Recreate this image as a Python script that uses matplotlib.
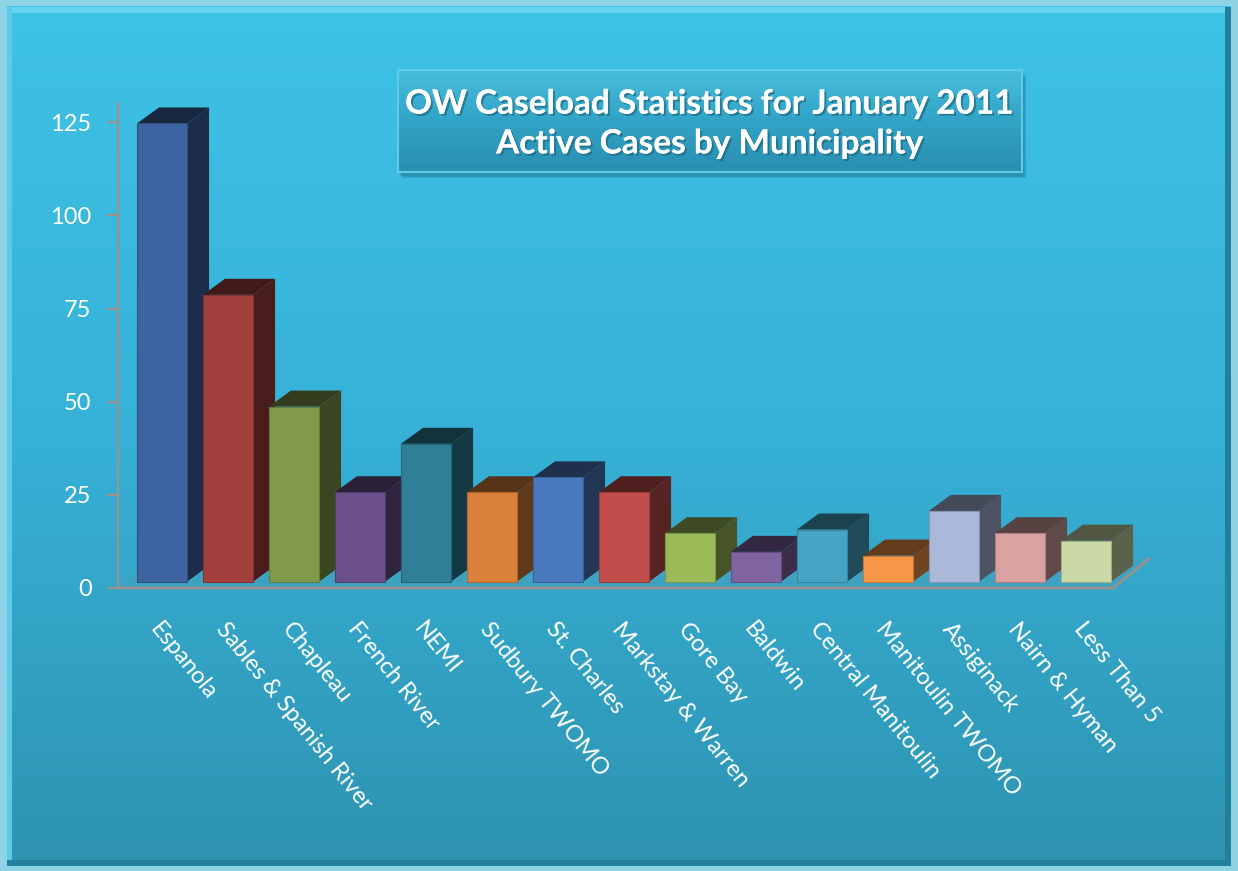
import numpy as np
import matplotlib.pyplot as plt
import matplotlib.patheffects as pe
from matplotlib.colors import LinearSegmentedColormap, to_rgb
from matplotlib.patches import Rectangle

# Data
municipalities = ['Espanola', 'Sables & Spanish River', 'Chapleau', 'French River', 'NEMI',
                  'Sudbury TWOMO', 'St. Charles', 'Markstay & Warren', 'Gore Bay', 'Baldwin',
                  'Central Manitoulin', 'Manitoulin TWOMO', 'Assiginack', 'Nairn & Hyman',
                  'Less Than 5']
cases = [123, 77, 47, 24, 37, 24, 28, 24, 13, 8, 14, 7, 19, 13, 11]
bar_colors = ['#3d64a0', '#a3403d', '#80994a', '#6a4f8b', '#2f7f97',
              '#d9813a', '#4a78bd', '#c24e4c', '#9bbb59', '#8064a2',
              '#46a4c5', '#f79646', '#aab9da', '#daa3a2', '#cbd9a6']
yticks = [0, 25, 50, 75, 100, 125]
title = 'OW Caseload Statistics for January 2011\nActive Cases by Municipality'

W, H = 1238, 871
fig = plt.figure(figsize=(W / 100, H / 100), dpi=100)
fig.patch.set_facecolor('#8fd3e6')

# background panel
bg = fig.add_axes([0, 0, 1, 1])
bg.set_xlim(0, W)
bg.set_ylim(H, 0)
bg.set_axis_off()
bg_cmap = LinearSegmentedColormap.from_list('bg', ['#3ec2e7', '#37b1d7', '#2e93b1'])
grad = np.linspace(0, 1, 256).reshape(-1, 1)
bg.imshow(grad, cmap=bg_cmap, extent=[7, 1231, 866, 7], aspect='auto', zorder=0)
bg.add_patch(Rectangle((7, 7), 1224, 6, color='#66d3f0', lw=0, zorder=1))
bg.add_patch(Rectangle((7, 7), 5, 859, color='#5ccbea', lw=0, zorder=1))
bg.add_patch(Rectangle((1225, 7), 6, 859, color='#23809c', lw=0, zorder=1))
bg.add_patch(Rectangle((7, 860), 1224, 6, color='#23809c', lw=0, zorder=1))

# title box with shadow
for k, a in enumerate([0.10, 0.14, 0.18]):
    bg.add_patch(Rectangle((398 + 2 + k, 70 + 4 + k), 624, 102, color='#0d4d63',
                           alpha=a, lw=0, zorder=2))
box = Rectangle((398, 70), 624, 102, facecolor='none', edgecolor='#5fcbe6', lw=1.5, zorder=4)
bg.add_patch(box)
box_cmap = LinearSegmentedColormap.from_list('box', ['#48bede', '#31a3c6', '#2a8fb1'])
im = bg.imshow(grad, cmap=box_cmap, extent=[398, 1022, 172, 70], aspect='auto', zorder=3)
im.set_clip_path(box)
bg.text(710, 124, title, ha='center', va='center', color='white', fontsize=24,
        fontweight='bold', family='Lato', linespacing=1.45, zorder=5,
        path_effects=[pe.withSimplePatchShadow(offset=(1.5, -1.5), shadow_rgbFace='#1a5f75',
                                               alpha=0.6), pe.Normal()])

# chart axes
ax = fig.add_axes([118 / W, (H - 588) / H, 1034 / W, (588 - 103) / H])
ax.set_facecolor('none')
x = np.arange(len(cases))
width = 0.76
dx, dy = 0.333, 4.3        # bar depth
base = 1.7                 # bars sit a bit back on the floor
x_left, x_right = -0.667, 14.41
ax.set_xlim(x_left, 15.0)
ax.set_ylim(0, 130.2)

# floor
fdx, fdy = 0.56, 8.05
ax.fill([x_left, x_right, x_right + fdx, x_left + fdx],
        [0, 0, fdy, fdy], color='#8c8a88', alpha=0.12, lw=0, zorder=1)
ax.plot([x_left, x_right, x_right + fdx], [0, 0, fdy], color='#9a928c', lw=2,
        zorder=1, clip_on=False, solid_capstyle='butt')

for i, (xi, v, c) in enumerate(zip(x, cases, bar_colors)):
    r, g, b = to_rgb(c)
    side = (r * 0.45, g * 0.45, b * 0.45)
    top = (r * 0.40, g * 0.40, b * 0.40)
    xl, xr = xi - width / 2, xi + width / 2
    yt = base + v
    z = 3 + i
    ax.fill([xr, xr + dx, xr + dx, xr], [base, base + dy, yt + dy, yt],
            color=side, lw=0, zorder=z, clip_on=False)
    ax.fill([xl, xl + dx, xr + dx, xr], [yt, yt + dy, yt + dy, yt],
            color=top, lw=0, zorder=z, clip_on=False)
    ax.bar(xi, v, width=width, bottom=base, color=c, edgecolor=(r * 0.8, g * 0.8, b * 0.8),
           lw=0.8, zorder=z + 0.5)

for s in ['top', 'right', 'bottom']:
    ax.spines[s].set_visible(False)
ax.spines['left'].set_color('#a0908a')
ax.spines['left'].set_linewidth(1.5)
ax.set_yticks(yticks)
ax.tick_params(axis='y', direction='out', length=8, width=1.5, color='#a0908a',
               labelcolor='white', labelsize=17, pad=11)
for t in ax.get_yticklabels():
    t.set_family('Lato')
ax.set_xticks(x)
ax.set_xticklabels(municipalities, rotation=-51, ha='left', va='top',
                   rotation_mode='anchor', color='white', fontsize=17, family='Lato')
ax.tick_params(axis='x', length=0, pad=22)

plt.savefig('out.png', dpi=100)
